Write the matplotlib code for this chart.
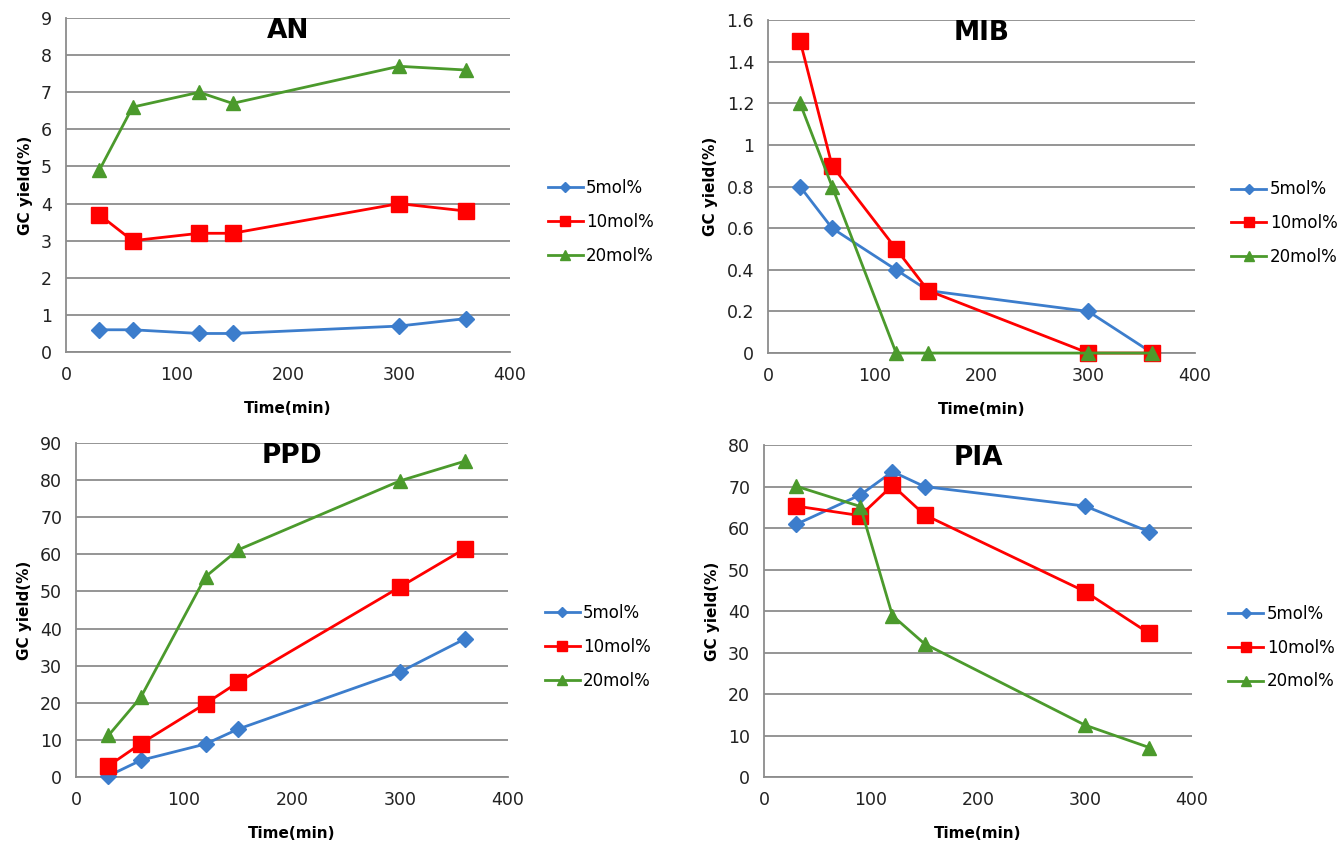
import matplotlib
matplotlib.use('Agg')
import matplotlib.pyplot as plt

# Données
time_a = [30, 60, 120, 150, 300, 360]
time_pia = [30, 90, 120, 150, 300, 360]
series_names = ['5mol%', '10mol%', '20mol%']

an_5 = [0.6, 0.6, 0.5, 0.5, 0.7, 0.9]
an_10 = [3.7, 3.0, 3.2, 3.2, 4.0, 3.8]
an_20 = [4.9, 6.6, 7.0, 6.7, 7.7, 7.6]

mib_5 = [0.8, 0.6, 0.4, 0.3, 0.2, 0.0]
mib_10 = [1.5, 0.9, 0.5, 0.3, 0.0, 0.0]
mib_20 = [1.2, 0.8, 0.0, 0.0, 0.0, 0.0]

ppd_5 = [0.3, 4.5, 8.9, 12.9, 28.3, 37.2]
ppd_10 = [3.0, 9.0, 19.8, 25.5, 51.2, 61.5]
ppd_20 = [11.2, 21.5, 54.0, 61.2, 79.8, 85.1]

pia_5 = [60.9, 68.0, 73.6, 70.0, 65.3, 59.1]
pia_10 = [65.3, 63.0, 70.3, 63.2, 44.7, 34.6]
pia_20 = [70.1, 65.2, 38.9, 32.1, 12.5, 7.1]

# Couleurs et marqueurs (style Excel)
couleurs = ['#3c7dcc', '#ff0000', '#4b9a2c']
marqueurs = ['D', 's', '^']
tailles = [8, 11, 10]

panels = [
    ('AN', time_a, [an_5, an_10, an_20], (0, 9), 1,
     [0.0493, 0.5824, 0.3316, 0.3962]),
    ('MIB', time_a, [mib_5, mib_10, mib_20], (0, 1.6), 0.2,
     [0.5736, 0.5812, 0.3189, 0.3950]),
    ('PPD', time_a, [ppd_5, ppd_10, ppd_20], (0, 90), 10,
     [0.0568, 0.0783, 0.3226, 0.3962]),
    ('PIA', time_pia, [pia_5, pia_10, pia_20], (0, 80), 10,
     [0.5706, 0.0783, 0.3197, 0.3937]),
]

fig = plt.figure(figsize=(13.39, 8.43), dpi=100)

for titre, x, ys, ylim, pas, pos in panels:
    ax = fig.add_axes(pos)
    for y, c, m, s, nom in zip(ys, couleurs, marqueurs, tailles, series_names):
        ax.plot(x, y, color=c, marker=m, markersize=s, linewidth=2,
                label=nom, clip_on=False, zorder=3)
    ax.set_xlim(0, 400)
    ax.set_ylim(*ylim)
    ax.set_xticks(range(0, 401, 100))
    n = int(round((ylim[1] - ylim[0]) / pas))
    ticks = [round(i * pas, 2) for i in range(n + 1)]
    ax.set_yticks(ticks)
    ax.set_yticklabels([('%g' % t) for t in ticks])
    ax.grid(axis='y', color='#8c8c8c', linewidth=1.3)
    ax.set_axisbelow(True)
    for cote in ['top', 'right']:
        ax.spines[cote].set_visible(False)
    for cote in ['left', 'bottom']:
        ax.spines[cote].set_color('#8c8c8c')
        ax.spines[cote].set_linewidth(1.3)
    ax.tick_params(length=0, labelsize=12.5, pad=10, colors='#222222')
    ax.set_xlabel('Time(min)', fontsize=11, fontweight='bold', labelpad=12)
    ax.set_ylabel('GC yield(%)', fontsize=11, fontweight='bold', labelpad=6)
    ax.text(0.5, 0.962, titre, transform=ax.transAxes, ha='center',
            va='center', fontsize=19, fontweight='bold')
    ax.legend(loc='center left', bbox_to_anchor=(1.085, 0.39), frameon=False,
              fontsize=12, handlelength=2.1, handletextpad=0.2,
              labelspacing=0.95, borderpad=0, borderaxespad=0,
              markerscale=0.7)

plt.savefig('out.png', dpi=100)
